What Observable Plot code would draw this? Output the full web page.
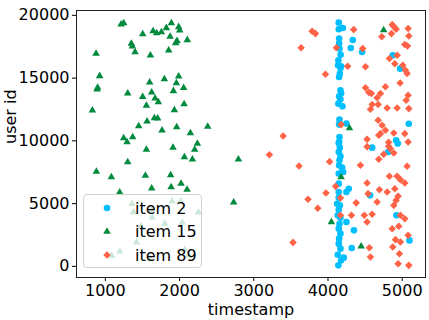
<!DOCTYPE html>
<html>
<head>
<meta charset="utf-8">
<script src="https://cdn.jsdelivr.net/npm/d3@7"></script>
<script src="https://cdn.jsdelivr.net/npm/@observablehq/plot@0.6"></script>
<style>
  html, body { margin: 0; padding: 0; background: #fff; }
  #wrap { position: relative; width: 429px; height: 320px; font-family: "DejaVu Sans", sans-serif; }
  #legend { position: absolute; left: 83px; top: 194px; width: 119px; height: 74px;
    background: rgba(255,255,255,0.8); border: 1px solid #d0d0d0; border-radius: 4px; box-sizing: border-box; }
</style>
</head>
<body>
<div id="wrap"><div id="chart"></div><div id="legend"></div></div>
<script>
const seriesNames = ["item 2", "item 15", "item 89"];
const seriesColors = ["#00bfff", "#008a3e", "#ff6347"];
const xTicks = [1000, 2000, 3000, 4000, 5000];
const yTicks = [0, 5000, 10000, 15000, 20000];

const item2 = [
  [4145,19420],[4200,18995],[4145,18890],[4334,18040],[4150,18150],[4150,17750],[4307,17400],[4460,17080],
  [4155,17350],[4170,16870],[4140,16420],[4136,16020],[4168,15805],[4177,15940],[4160,15360],[4150,15090],
  [4168,14030],[4177,13790],[4150,13550],[4168,13310],[4140,12965],[4195,12750],[4155,11690],[4150,11295],
  [4248,11375],[4155,10310],[4150,9907],[4873,16815],[4972,15755],[5089,11365],[4918,10040],[4940,9780],
  [4145,9830],[4160,9460],[4145,9110],[4168,8770],[4155,8450],[4150,8050],[4190,7865],[4204,7515],
  [4145,7390],[4145,6590],[4280,6190],[4248,5925],[4145,5925],[4145,5475],[4123,4995],[4160,4860],
  [4145,4520],[4132,4065],[4168,3880],[4248,3530],[4155,3400],[4350,2870],[4145,3005],[4168,2605],
  [4150,2210],[4145,1810],[4320,1460],[4168,1410],[4132,930],[4212,695],[4177,480],[4140,80],
  [4595,9460],[4811,9110],[4567,5660],[4922,4065],[5098,2070]
];
const item15 = [
  [1212,19290],[1247,19390],[1503,18515],[1643,18755],[1692,18595],[1755,18675],[1822,18995],[1890,19390],
  [1988,19075],[2002,18810],[1872,18305],[1966,17960],[1948,17800],[2104,18040],[1350,17750],[1364,17535],
  [1400,17080],[1853,17215],[1607,16815],[875,16950],[923,15170],[896,14240],[888,14110],[1597,14665],
  [1795,14930],[1988,15140],[1957,14610],[1917,13975],[2055,14230],[1301,13790],[1624,13870],[1503,13500],
  [1670,13390],[1714,13095],[1553,12810],[2061,12935],[1930,12460],[825,12435],[1661,11820],[1705,11795],
  [1562,11555],[1449,11180],[1961,11100],[1764,10840],[2379,11135],[2146,10625],[1247,10225],[1368,10305],
  [1292,9907],[1553,9300],[1911,9460],[2240,9780],[2204,9300],[2065,8710],[2173,8530],[1301,8315],
  [2793,8530],[879,7550],[1081,7120],[1539,7230],[1880,7280],[1886,6320],[2020,6590],[1624,6215],
  [2101,6110],[1193,5900],[2729,5100],
  [1360,4990],[1380,4330],[1630,4520],[1630,3880],[1900,5180],[2015,5180],[2255,4310],[1800,3400],
  [1480,3210],[2035,3480],[1195,1200],[1085,850],[1600,590],[2070,1330],[2120,850],[1420,1910],
  [4750,18830],[4289,11020],[4177,7120],[4046,3530],[4447,1595]
];
const item89 = [
  [3786,18730],[3831,18545],[3638,17420],[3966,15300],[3395,10385],[3211,8900],[3610,7995],[4022,8345],
  [3973,5840],[3731,5340],[3862,4625],[3529,1910],[4103,6375],[4168,5445],[4168,4065],[4347,18865],
  [4113,17420],[4468,17350],[4265,15940],[4505,15910],[4505,14230],[4550,13865],[4177,11295],[4527,10120],
  [4725,18300],[4865,19260],[4890,19100],[4918,18890],[4855,18545],[5080,18945],[5089,18355],[5035,17670],
  [5071,17560],[4828,16555],[4932,16815],[4900,16150],[5008,16020],[5044,15620],[5066,15360],[4585,13780],
  [4774,14310],[4707,13780],[4662,13430],[4595,12895],[4676,12895],[4572,12515],[4797,12620],[4932,12620],
  [5080,13630],[5053,13230],[5089,12570],[4972,14610],[4676,11635],[4729,11240],[4774,10840],[4707,10575],
  [4887,10625],[5035,10575],[4817,9880],[5080,9910],[4527,9540],[4817,9565],[4840,9380],[4751,8925],
  [4684,8530],[4887,9030],[5066,7970],[4828,7175],[4932,7175],[4976,6910],[5035,6650],[4527,6650],
  [4693,6110],[4797,5925],[4900,6190],[4540,5795],[4945,5580],[4918,5260],[4662,5125],[4887,4860],
  [4595,4145],[4527,3530],[4976,4065],[5035,3800],[4865,3005],[4954,3190],[5080,2470],[4909,2130],
  [4976,1935],[4873,1540],[4963,1010],[4558,1490],[4572,740],[4945,215],[5089,80],[4437,8050],
  [4380,5060],[4316,4065],[4490,4065],[4684,10440]
];

const toRows = (arr) => arr.map(([t, u]) => ({t, u}));
const FONT = "DejaVu Sans";
const radii = [3.3, 3.6, 3.4];

const chart = Plot.plot({
  width: 429,
  height: 320,
  marginTop: 10,
  marginRight: 4,
  marginBottom: 43,
  marginLeft: 76,
  style: {fontFamily: FONT, fontSize: "16px", color: "#000", background: "#fff"},
  x: {domain: [611, 5314], ticks: xTicks, tickFormat: "d", tickSize: 4, tickPadding: 3, label: null},
  y: {domain: [-887, 20387], ticks: yTicks, tickFormat: "d", tickSize: 4, tickPadding: 3, label: null},
  marks: [
    Plot.dot(toRows(item2), {x: "t", y: "u", symbol: "circle", r: radii[0], fill: seriesColors[0], stroke: "none"}),
    Plot.dot(toRows(item15), {x: "t", y: "u", symbol: "triangle2", r: radii[1], fill: seriesColors[1], stroke: "none"}),
    Plot.dot(toRows(item89), {x: "t", y: "u", symbol: "diamond2", r: radii[2], fill: seriesColors[2], stroke: "none"}),
    Plot.frame({stroke: "#222", strokeWidth: 1}),
    Plot.text(["timestamp"], {frameAnchor: "bottom", dy: 32, fontSize: 16, fill: "#000", lineAnchor: "middle"}),
    Plot.text(["user id"], {frameAnchor: "left", dx: -66, rotate: -90, fontSize: 16, fill: "#000"})
  ]
});
document.getElementById("chart").appendChild(chart);

// legend overlay
const symbols = [d3.symbolCircle, d3.symbolTriangle2, d3.symbolDiamond2];
const lg = d3.select("#legend").append("svg").attr("width", 117).attr("height", 72)
  .style("position", "absolute").style("left", "0px").style("top", "0px");
seriesNames.forEach((name, i) => {
  const cy = 13 + i * 23.5;
  lg.append("path")
    .attr("d", d3.symbol(symbols[i], Math.PI * radii[i] * radii[i])())
    .attr("transform", `translate(23,${cy})`)
    .attr("fill", seriesColors[i]);
  lg.append("text")
    .attr("x", 51).attr("y", cy).attr("dy", "0.35em")
    .attr("font-family", FONT).attr("font-size", 16).attr("fill", "#000")
    .text(name);
});
</script>
</body>
</html>
